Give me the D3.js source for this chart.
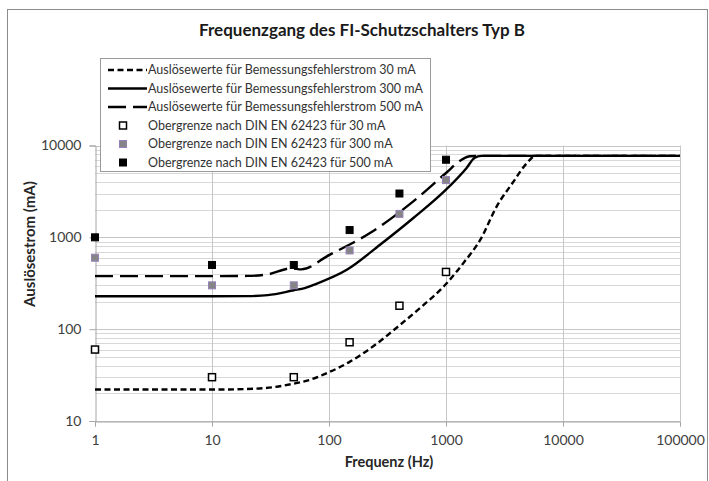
<!DOCTYPE html>
<html><head><meta charset="utf-8">
<script src="https://cdn.jsdelivr.net/npm/d3@7"></script>
<style>
html,body{margin:0;padding:0;background:#fff;}
svg{display:block;font-family:Lato,"Open Sans",sans-serif;}
</style></head>
<body><svg id="chart" width="709" height="481"></svg>
<script>
// ---- data ----
const title = "Frequenzgang des FI-Schutzschalters Typ B";
const xTitle = "Frequenz (Hz)";
const yTitle = "Auslösestrom (mA)";
const xTicks = [1, 10, 100, 1000, 10000, 100000];
const yTicks = [10, 100, 1000, 10000];

const freq30  = [1, 10, 20, 35, 50, 65, 100, 150, 250, 400, 600, 1000, 1400, 2000, 2700, 3700, 4900, 5800, 100000];
const curve30 = [22, 22, 22.3, 23.5, 25.5, 27.5, 34, 44, 68, 110, 170, 310, 520, 980, 2150, 3900, 6400, 7700, 7700];

const freq300  = [1, 10, 20, 30, 50, 62, 74, 142, 273, 526, 1000, 1500, 1750, 2000, 100000];
const curve300 = [228, 228, 229, 235, 265, 280, 304, 443, 830, 1623, 3300, 5700, 7300, 7700, 7700];

const freq500  = [1, 10, 20, 30, 48, 58, 100, 224, 525, 1000, 1361, 1600, 2000, 100000];
const curve500 = [378, 378, 380, 395, 460, 448, 640, 1114, 2466, 5020, 7010, 7650, 7700, 7700];

const limitFreq = [1, 10, 50, 150, 400, 1000];
const limit30  = [60, 30, 30, 72, 180, 420];
const limit300 = [600, 300, 300, 720, 1800, 4200];
const limit500 = [1000, 500, 500, 1200, 3000, 7000];

const lineNames = [
  "Auslösewerte für Bemessungsfehlerstrom 30 mA",
  "Auslösewerte für Bemessungsfehlerstrom 300 mA",
  "Auslösewerte für Bemessungsfehlerstrom 500 mA"
];
const markerNames = [
  "Obergrenze nach DIN EN 62423 für 30 mA",
  "Obergrenze nach DIN EN 62423 für 300 mA",
  "Obergrenze nach DIN EN 62423 für 500 mA"
];

// ---- drawing ----
const svg = d3.select("#chart");
const plot = {left: 95, right: 680, top: 145.5, bottom: 421};

svg.append("rect").attr("x", 7.5).attr("y", 9.5).attr("width", 700).attr("height", 480)
  .attr("fill", "#fff").attr("stroke", "#8c8c8c").attr("stroke-width", 1);

const x = d3.scaleLog().domain([1, 100000]).range([plot.left, plot.right]);
const y = d3.scaleLog().domain([10, 10000]).range([plot.bottom, plot.top]);

// gridlines
const minorY = [];
for (let d = 10; d < 10000; d *= 10) for (let m = 1; m <= 9; m++) minorY.push(d * m);
minorY.push(10000);
const grid = svg.append("g");
grid.selectAll("line.hy").data(minorY).enter().append("line")
  .attr("x1", plot.left).attr("x2", plot.right)
  .attr("y1", d => Math.round(y(d)) + 0.5).attr("y2", d => Math.round(y(d)) + 0.5)
  .attr("stroke", d => yTicks.includes(d) ? "#c6c6c6" : "#d8d8d8").attr("stroke-width", 1);
grid.selectAll("line.vx").data(xTicks.slice(1)).enter().append("line")
  .attr("y1", plot.top).attr("y2", plot.bottom)
  .attr("x1", d => Math.round(x(d)) + 0.5).attr("x2", d => Math.round(x(d)) + 0.5)
  .attr("stroke", "#c6c6c6").attr("stroke-width", 1);

// axes
const yAxis = d3.axisLeft(y).tickValues(yTicks).tickFormat(d3.format("d")).tickSize(6).tickPadding(8);
const gy = svg.append("g").attr("transform", `translate(${plot.left + 0.5},0)`).call(yAxis);
const xAxis = d3.axisBottom(x).tickValues(xTicks).tickFormat(d3.format("d")).tickSize(5).tickPadding(9);
const gx = svg.append("g").attr("transform", `translate(0,${Math.round(plot.bottom) + 0.5})`).call(xAxis);
[gx, gy].forEach(g => {
  g.select(".domain").attr("stroke", "#a6a6a6");
  g.selectAll(".tick line").attr("stroke", "#a6a6a6");
  g.selectAll(".tick text").attr("fill", "#404040").attr("font-size", 14).attr("font-family", "Lato, sans-serif");
});

// titles
svg.append("text").attr("x", 362).attr("y", 36).attr("text-anchor", "middle")
  .attr("font-size", 17).attr("font-weight", "bold").attr("fill", "#1a1a1a").text(title);
svg.append("text").attr("x", 389).attr("y", 467).attr("text-anchor", "middle")
  .attr("font-size", 14.5).attr("font-weight", "bold").attr("fill", "#262626").text(xTitle);
svg.append("text").attr("transform", "translate(35,244) rotate(-90)").attr("text-anchor", "middle")
  .attr("font-size", 15).attr("font-weight", "bold").attr("fill", "#262626").text(yTitle);

// lines
const lineGen = d3.line().x(d => x(d[0])).y(d => y(d[1])).curve(d3.curveMonotoneX);
const lineSeries = [
  {f: freq30, v: curve30, dash: "6,3.5"},
  {f: freq300, v: curve300, dash: null},
  {f: freq500, v: curve500, dash: "18,7"}
];
lineSeries.forEach(s => {
  svg.append("path").datum(s.f.map((f, i) => [f, s.v[i]]))
    .attr("d", lineGen).attr("fill", "none").attr("stroke", "#000")
    .attr("stroke-width", 2.4).attr("stroke-dasharray", s.dash);
});

// markers
const markerStyles = [
  {fill: "#fff", stroke: "#000", sw: 1.5},
  {fill: "#858585", stroke: "#9680b8", sw: 1},
  {fill: "#000", stroke: "#000", sw: 1}
];
const markerSeries = [limit30, limit300, limit500];
const ms = 7;
markerSeries.forEach((vals, k) => {
  const st = markerStyles[k];
  svg.append("g").selectAll("rect").data(limitFreq.map((f, i) => [f, vals[i]])).enter().append("rect")
    .attr("x", d => x(d[0]) - ms / 2).attr("y", d => y(d[1]) - ms / 2)
    .attr("width", ms).attr("height", ms)
    .attr("fill", st.fill).attr("stroke", st.stroke).attr("stroke-width", st.sw);
});

// legend
const lg = svg.append("g");
lg.append("rect").attr("x", 100.5).attr("y", 58.5).attr("width", 330).attr("height", 113)
  .attr("fill", "#fff").attr("stroke", "#9a9a9a");
const rowY = i => 70 + i * 18.5;
lineSeries.forEach((s, i) => {
  lg.append("line").attr("x1", 108).attr("x2", 147).attr("y1", rowY(i)).attr("y2", rowY(i))
    .attr("stroke", "#000").attr("stroke-width", 2.4).attr("stroke-dasharray", s.dash);
  lg.append("text").attr("x", 148).attr("y", rowY(i)).attr("dy", "0.35em")
    .attr("font-size", 12.5).attr("fill", "#333").text(lineNames[i]);
});
markerStyles.forEach((st, k) => {
  const i = k + 3;
  lg.append("rect").attr("x", 123 - ms / 2).attr("y", rowY(i) - ms / 2).attr("width", ms).attr("height", ms)
    .attr("fill", st.fill).attr("stroke", st.stroke).attr("stroke-width", st.sw);
  lg.append("text").attr("x", 148).attr("y", rowY(i)).attr("dy", "0.35em")
    .attr("font-size", 12.5).attr("fill", "#333").text(markerNames[k]);
});
</script>
</body></html>
